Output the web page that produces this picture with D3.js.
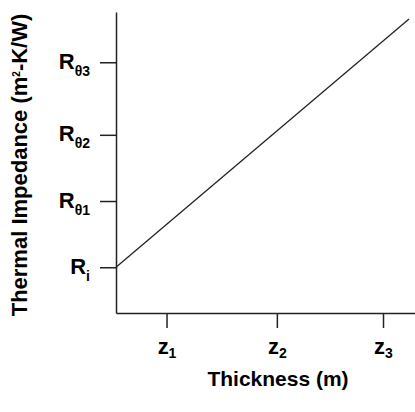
<!DOCTYPE html>
<html>
<head>
<meta charset="utf-8">
<script src="https://cdn.jsdelivr.net/npm/d3@7"></script>
<style>
  html, body { margin: 0; padding: 0; background: #fff; }
  svg { display: block; }
</style>
</head>
<body>
<svg id="chart" width="415" height="412"></svg>
<script>
// Thermal impedance grows linearly with layer thickness
const thickness = [0, 9.8];
const impedance = [1.52, 9.77];

// Symbolic tick positions (no numeric scale is shown)
const xTickValues = [1.69, 5.38, 8.93];
const xTickLabels = [["z", "1"], ["z", "2"], ["z", "3"]];
const yTickValues = [1.52, 3.72, 5.92, 8.33];
const yTickLabels = [["R", "i"], ["R", "θ1"], ["R", "θ2"], ["R", "θ3"]];

const xTitle = "Thickness (m)";
const yTitle = ["Thermal Impedance (m", "2", "-K/W)"];

const svg = d3.select("#chart");
const font = "'Liberation Sans', Arial, Helvetica, sans-serif";
const ink = "#222";

const x = d3.scaleLinear().domain([0, 10]).range([116, 415]);
const y = d3.scaleLinear().domain([0, 10]).range([313, 12]);

// Axes
const xAxis = d3.axisBottom(x)
  .tickValues(xTickValues)
  .tickSizeInner(15)
  .tickSizeOuter(0)
  .tickFormat(() => "");
const yAxis = d3.axisLeft(y)
  .tickValues(yTickValues)
  .tickSizeInner(16)
  .tickSizeOuter(0)
  .tickFormat(() => "");

const gx = svg.append("g").attr("transform", `translate(0,${y(0)})`).call(xAxis);
const gy = svg.append("g").attr("transform", `translate(${x(0)},0)`).call(yAxis);

[gx, gy].forEach(g => {
  g.select(".domain").attr("stroke", ink).attr("stroke-width", 1.5);
  g.selectAll(".tick line").attr("stroke", ink).attr("stroke-width", 1.5);
  g.selectAll(".tick text").remove();
});

// Y tick labels: bold R with a subscript
gy.selectAll(".tick").each(function(d, i) {
  const lab = yTickLabels[i];
  const t = d3.select(this).append("text")
    .attr("x", -26)
    .attr("y", 6)
    .attr("text-anchor", "end")
    .attr("fill", "#000")
    .attr("font-family", font)
    .attr("font-weight", "bold");
  t.append("tspan").attr("font-size", 22).text(lab[0]);
  t.append("tspan").attr("font-size", 14).attr("dy", 7).text(lab[1]);
});

// X tick labels: bold z with a subscript
gx.selectAll(".tick").each(function(d, i) {
  const lab = xTickLabels[i];
  const t = d3.select(this).append("text")
    .attr("x", 0)
    .attr("y", 41)
    .attr("text-anchor", "middle")
    .attr("fill", "#000")
    .attr("font-family", font)
    .attr("font-weight", "bold");
  t.append("tspan").attr("font-size", 22).text(lab[0]);
  t.append("tspan").attr("font-size", 14).attr("dy", 4).text(lab[1]);
});

// Data line
const line = d3.line()
  .x(d => x(d[0]))
  .y(d => y(d[1]));
svg.append("path")
  .datum(d3.zip(thickness, impedance))
  .attr("d", line)
  .attr("fill", "none")
  .attr("stroke", ink)
  .attr("stroke-width", 1.3);

// Axis titles
svg.append("text")
  .attr("x", 278)
  .attr("y", 386)
  .attr("text-anchor", "middle")
  .attr("font-family", font)
  .attr("font-weight", "bold")
  .attr("font-size", 21)
  .attr("fill", "#000")
  .text(xTitle);

const yt = svg.append("text")
  .attr("transform", "translate(27,165) rotate(-90)")
  .attr("text-anchor", "middle")
  .attr("font-family", font)
  .attr("font-weight", "bold")
  .attr("font-size", 22)
  .attr("fill", "#000");
yt.append("tspan").text(yTitle[0]);
yt.append("tspan").attr("font-size", 10).attr("dy", -7).text(yTitle[1]);
yt.append("tspan").attr("dy", 7).text(yTitle[2]);
</script>
</body>
</html>
